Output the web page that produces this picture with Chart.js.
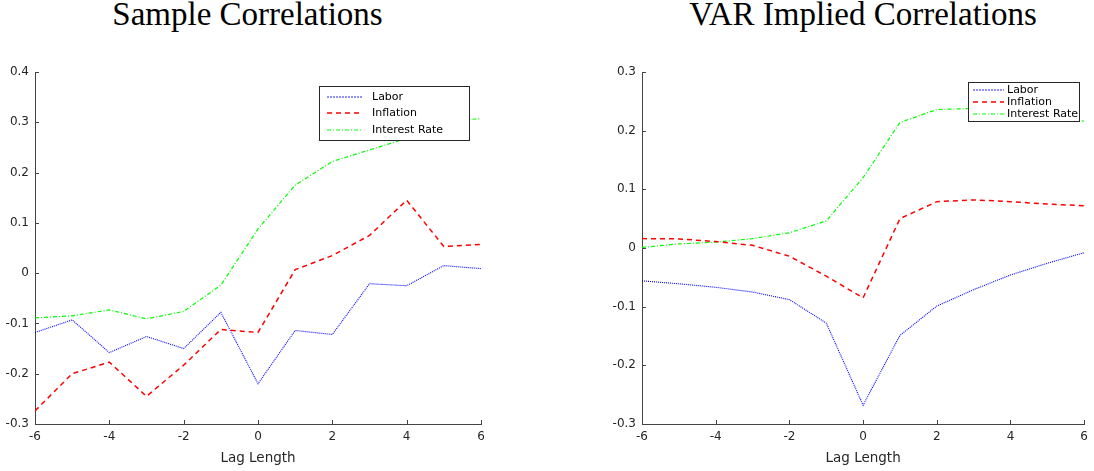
<!DOCTYPE html>
<html><head><meta charset="utf-8">
<script src="https://cdn.jsdelivr.net/npm/chart.js@4.4.0/dist/chart.umd.min.js"></script>
<style>
html,body{margin:0;padding:0;background:#fff;}
body{width:1094px;height:471px;position:relative;overflow:hidden;}
.title{position:absolute;top:-2px;font-family:"Liberation Serif",serif;font-size:33px;line-height:33px;color:#000;white-space:nowrap;transform:translateX(-50%);}
#c1{position:absolute;left:0;top:0;}
#c2{position:absolute;left:600px;top:0;}
</style></head><body>
<div class="title" style="left:247.5px">Sample Correlations</div>
<div class="title" style="left:863px">VAR Implied Correlations</div>
<canvas id="c1" width="500" height="471"></canvas>
<canvas id="c2" width="494" height="471"></canvas>
<script>
// ---- data ----
const lags = [-6,-5,-4,-3,-2,-1,0,1,2,3,4,5,6];
const seriesNames = ['Labor','Inflation','Interest Rate'];
const xTickLabels = ['-6','-4','-2','0','2','4','6'];

const sampleLabor    = [-0.118,-0.093,-0.158,-0.126,-0.150,-0.078,-0.220,-0.114,-0.122,-0.021,-0.025,0.015,0.009];
const sampleInflation= [-0.274,-0.200,-0.177,-0.245,-0.183,-0.112,-0.118,0.007,0.035,0.075,0.145,0.053,0.057];
const sampleInterest = [-0.089,-0.085,-0.073,-0.091,-0.076,-0.024,0.088,0.175,0.222,0.245,0.268,0.303,0.307];

const varLabor    = [-0.056,-0.061,-0.067,-0.075,-0.088,-0.128,-0.268,-0.149,-0.099,-0.071,-0.046,-0.026,-0.008];
const varInflation= [0.016,0.0155,0.011,0.0045,-0.014,-0.048,-0.085,0.050,0.079,0.082,0.079,0.075,0.072];
const varInterest = [0.001,0.007,0.010,0.016,0.026,0.046,0.120,0.214,0.236,0.238,0.235,0.226,0.216];

// ---- plugins ----
const inwardTicks = {
  id:'inwardTicks',
  afterDatasetsDraw(chart){
    const {ctx, chartArea:a, scales:{x,y}} = chart;
    ctx.save(); ctx.strokeStyle='#444'; ctx.lineWidth=1; ctx.setLineDash([]);
    ctx.beginPath();
    x.ticks.forEach(t=>{const px=Math.round(x.getPixelForValue(t.value))+0.5; ctx.moveTo(px,a.bottom); ctx.lineTo(px,a.bottom-4);});
    y.ticks.forEach(t=>{const py=Math.round(y.getPixelForValue(t.value))+0.5; ctx.moveTo(a.left,py); ctx.lineTo(a.left+4,py);});
    ctx.stroke(); ctx.restore();
  }
};
const boxLegend = {
  id:'boxLegend',
  afterDraw(chart, args, o){
    const ctx = chart.ctx;
    ctx.save();
    ctx.fillStyle='#fff'; ctx.fillRect(o.x,o.y,o.w,o.h);
    ctx.strokeStyle='#262626'; ctx.lineWidth=1; ctx.setLineDash([]);
    ctx.strokeRect(o.x+0.5,o.y+0.5,o.w,o.h);
    ctx.font='11px "DejaVu Sans"'; ctx.textBaseline='middle';
    chart.data.datasets.forEach((ds,i)=>{
      const yy = Math.round(o.y + o.first + i*o.row);
      const st = styles[i];
      ctx.strokeStyle = st.legendColor || st.borderColor;
      ctx.lineWidth = st.legendWidth || st.borderWidth;
      ctx.setLineDash(st.legendDash || st.borderDash || []);
      ctx.beginPath(); ctx.moveTo(o.x+o.inset, yy); ctx.lineTo(o.x+o.inset+o.len, yy); ctx.stroke();
      ctx.setLineDash([]);
      ctx.fillStyle='#000'; ctx.fillText(ds.label, o.x+o.inset+o.len+o.gap, yy+0.5);
    });
    ctx.restore();
  }
};

const styles = [
  {borderColor:'#0000ff', borderWidth:1.1, borderDash:[1,1], legendColor:'rgba(60,60,255,0.75)', legendWidth:1.5, legendDash:[2,1]},
  {borderColor:'#ff0000', borderWidth:1.5, borderDash:[5,4]},
  {borderColor:'#00ff00', borderWidth:1.2, borderDash:[4,2,1,2]}
];

function makeDatasets(arrs){
  return arrs.map((vals,i)=>({
    label: seriesNames[i],
    data: lags.map((l,k)=>({x:l, y:vals[k]})),
    borderColor: styles[i].borderColor,
    borderWidth: styles[i].borderWidth,
    borderDash: styles[i].borderDash,
    pointRadius:0, tension:0, fill:false
  }));
}

function makeChart(id, arrs, ymin, ymax, yAxisW, padRight, legend){
  return new Chart(document.getElementById(id), {
    type:'line',
    data:{datasets:makeDatasets(arrs)},
    options:{
      responsive:false, animation:false,
      layout:{padding:{left:0,right:padRight,top:72,bottom:4}},
      plugins:{legend:{display:false}, tooltip:{enabled:false}, boxLegend:legend},
      scales:{
        x:{type:'linear', min:-6, max:6,
           afterFit:s=>{s.height=43;},
           grid:{display:false, drawTicks:false},
           border:{display:true,color:'#444',width:1},
           ticks:{stepSize:2, padding:6, color:'#262626', font:{family:'DejaVu Sans',size:12},
                  callback:(v)=>xTickLabels.includes(String(v))?String(v):''},
           title:{display:true,text:'Lag Length',color:'#262626',font:{family:'DejaVu Sans',size:13.5},padding:0}},
        y:{min:ymin, max:ymax,
           afterFit:s=>{s.width=yAxisW;},
           grid:{display:false, drawTicks:false},
           border:{display:true,color:'#444',width:1},
           ticks:{stepSize:0.1, padding:6, color:'#262626', font:{family:'DejaVu Sans',size:12},
                  callback:(v)=>{const r=Math.round(v*10)/10; return r===0?'0':String(r);}}}
      }
    },
    plugins:[inwardTicks, boxLegend]
  });
}

makeChart('c1',[sampleLabor,sampleInflation,sampleInterest],-0.3,0.4,35,19,
  {x:319,y:86,w:150,h:54,first:10.5,row:16.5,inset:8,len:36,gap:9});
makeChart('c2',[varLabor,varInflation,varInterest],-0.3,0.3,42,5,
  {x:368,y:82,w:111,h:39,first:7.5,row:12,inset:5,len:31,gap:3});
</script>
</body></html>
